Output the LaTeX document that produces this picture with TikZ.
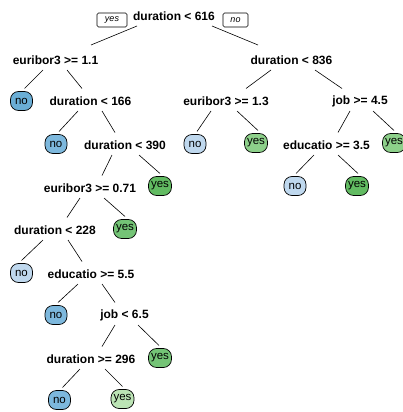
\documentclass[tikz,border=0pt]{standalone}
\usepackage{fontspec}
\setmainfont{Liberation Sans}
\begin{document}
\begin{tikzpicture}[x=1pt,y=-1pt,
  split/.style={font=\fontsize{12}{14}\selectfont\bfseries, inner sep=1pt},
  leaf/.style={draw=black, line width=0.7pt, rounded corners=8pt, font=\fontsize{11.5}{13}\selectfont,
    minimum height=19pt, minimum width=22pt, inner xsep=2.5pt, inner ysep=1pt},
  tag/.style={draw=black, line width=0.6pt, rounded corners=1.5pt, font=\fontsize{9}{10}\selectfont\itshape,
    minimum height=14pt, inner xsep=3pt, inner ysep=1pt},
  br/.style={line width=0.6pt}]
\definecolor{bdark}{HTML}{6AAED6}
\definecolor{bmid}{HTML}{7DB8DD}
\definecolor{blight}{HTML}{BFD8EE}
\definecolor{gdark}{HTML}{62BB62}
\definecolor{gmid}{HTML}{74C476}
\definecolor{gsoft}{HTML}{8DD08A}
\definecolor{glight}{HTML}{BCE4B5}
\clip (0,0) rectangle (403,412);
\fill[white] (0,0) rectangle (403,412);

% split nodes
\node[split] (root) at (174,16) {duration < 616};
\node[tag, minimum width=30pt] (tyes) at (112,20) {yes};
\node[tag, minimum width=25pt] (tno) at (235.5,20) {no};
\node[split] (L) at (55.5,60) {euribor3 >= 1.1};
\node[split] (R) at (291.5,60) {duration < 836};
\node[split] (n166) at (90.5,101) {duration < 166};
\node[split] (e13) at (226,101) {euribor3 >= 1.3};
\node[split] (j45) at (360,101) {job >= 4.5};
\node[split] (n390) at (125,145) {duration < 390};
\node[split] (ed35) at (326.5,145) {educatio >= 3.5};
\node[split] (e071) at (90,188) {euribor3 >= 0.71};
\node[split] (n228) at (55,230) {duration < 228};
\node[split] (ed55) at (91,274) {educatio >= 5.5};
\node[split] (j65) at (124.5,315) {job < 6.5};
\node[split] (d296) at (91,359) {duration >= 296};

% leaves
\node[leaf, fill=bdark] (noA) at (21.5,101) {no};
\node[leaf, fill=bmid] (noB) at (56,144) {no};
\node[leaf, fill=blight] (noC) at (195,144) {no};
\node[leaf, fill=gsoft] (yesC) at (256,143) {yes};
\node[leaf, fill=gsoft] (yesR) at (394,143) {yes};
\node[leaf, fill=gdark] (yesD) at (160,186) {yes};
\node[leaf, fill=blight] (noJ) at (295,186) {no};
\node[leaf, fill=gdark] (yesJ) at (357,186) {yes};
\node[leaf, fill=gmid] (yesE) at (125,229) {yes};
\node[leaf, fill=blight] (noF) at (21.5,273) {no};
\node[leaf, fill=bmid] (noG) at (56,315) {no};
\node[leaf, fill=gmid] (yesH) at (160,358) {yes};
\node[leaf, fill=bmid] (noI) at (59.5,400) {no};
\node[leaf, fill=glight] (yesI) at (122.5,399) {yes};

% branches: parent, child, x offset at parent, x offset at child
\newcommand{\branch}[4]{\draw[br] ([shift={(#3,10)}]#1.center) -- ([shift={(#4,-12.5)}]#2.center);}
\draw[br] ([shift={(-37,10)}]root.center) -- ([shift={(35.5,-15)}]L.center);
\draw[br] ([shift={(38,10)}]root.center) -- ([shift={(-33.5,-15)}]R.center);
\branch{L}{noA}{-12.5}{3}
\branch{L}{n166}{11.5}{-8.5}
\branch{R}{e13}{-20.5}{20}
\branch{R}{j45}{23.5}{-18}
\branch{n166}{noB}{-12.5}{3}
\branch{n166}{n390}{11.5}{-10}
\branch{e13}{noC}{-15}{2}
\branch{e13}{yesC}{11}{2}
\branch{j45}{ed35}{-10}{11.5}
\branch{j45}{yesR}{13}{0}
\branch{n390}{e071}{-13}{12}
\branch{n390}{yesD}{14}{0}
\branch{e071}{n228}{-10}{12}
\branch{e071}{yesE}{14}{0}
\branch{n228}{noF}{-12}{0}
\branch{n228}{ed55}{13}{-9}
\branch{ed55}{noG}{-13}{2}
\branch{ed55}{j65}{11}{-9.5}
\branch{j65}{d296}{-9.5}{11}
\branch{j65}{yesH}{13.5}{-1}
\branch{d296}{noI}{-11}{3}
\branch{d296}{yesI}{14}{0}
\branch{ed35}{noJ}{-12.5}{1}
\branch{ed35}{yesJ}{11.5}{1}
\end{tikzpicture}
\end{document}
